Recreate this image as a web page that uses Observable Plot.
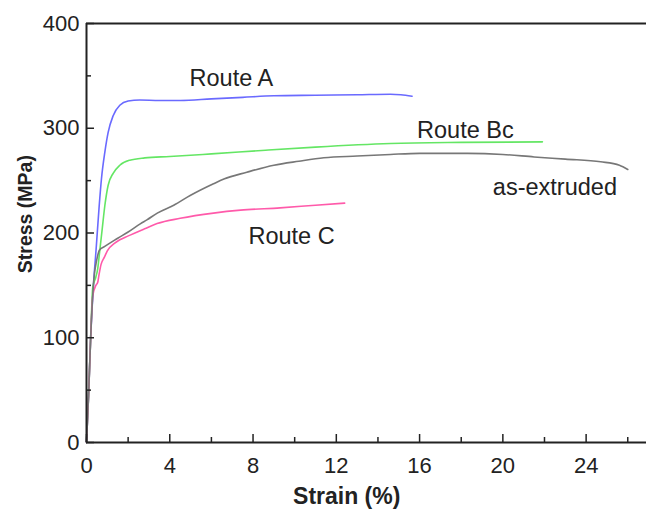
<!DOCTYPE html>
<html>
<head>
<meta charset="utf-8">
<script src="https://cdn.jsdelivr.net/npm/d3@7"></script>
<script src="https://cdn.jsdelivr.net/npm/@observablehq/plot@0.6"></script>
<style>
  body { margin: 0; background: #fff; }
  #chart svg { display: block; }
</style>
</head>
<body>
<div id="chart"></div>
<script>
// Tensile stress–strain curves: [strain %, stress MPa]
const routeA = [
  [0, 0], [0.1, 45], [0.2, 100], [0.35, 155], [0.46, 184], [0.61, 226], [0.72, 252],
  [0.88, 277], [1.04, 296], [1.28, 312], [1.6, 322], [2.0, 326], [2.56, 327], [3.5, 326.5],
  [4.5, 326.5], [6, 328], [7.5, 329.5], [9, 331], [11, 331.5], [13, 332], [14.6, 332.5],
  [15.1, 332], [15.64, 330.6]
];
const routeBc = [
  [0, 0], [0.1, 45], [0.2, 100], [0.3, 148], [0.45, 158], [0.54, 166], [0.62, 180],
  [0.75, 203], [0.88, 226], [1.04, 245.6], [1.28, 257], [1.6, 264.7], [2.08, 269.5],
  [2.8, 271.7], [4, 273], [6, 275.5], [8.6, 279], [11, 282], [14.6, 285.4], [18, 286.5],
  [21.9, 287]
];
const routeC = [
  [0, 0], [0.1, 45], [0.2, 100], [0.3, 140], [0.45, 150], [0.54, 153], [0.6, 160],
  [0.7, 170], [0.86, 177], [1.0, 183], [1.34, 190], [1.6, 193.5], [1.98, 197], [2.79, 204],
  [3.39, 209], [4.5, 214], [6.1, 219], [7.4, 221.8], [9.3, 224], [11, 226.5], [12.4, 228.5]
];
const asExtruded = [
  [0, 0], [0.1, 45], [0.2, 100], [0.35, 155], [0.5, 175], [0.62, 183.6], [0.86, 187],
  [1.5, 195], [2.0, 201], [2.6, 209], [2.9, 212.5], [3.4, 219], [4.19, 226.5], [5, 236],
  [6.1, 247], [6.6, 251.5], [7.7, 258], [9.0, 264.7], [10.2, 268.5], [11.4, 271.8], [13, 273.5],
  [14.6, 275], [16, 276], [18.3, 276], [20, 275], [21.5, 272.6], [23, 270.5], [24.7, 268],
  [25.6, 264.7], [26, 260.6]
];

const seriesNames = ["Route A", "Route Bc", "Route C", "as-extruded"];
const seriesColors = ["#6a6aff", "#64e664", "#ff5aaa", "#777777"];
const seriesData = [routeA, routeBc, routeC, asExtruded];

// Curve labels: [text, strain %, stress MPa]
const curveLabels = [
  ["Route A", 6.96, 348],
  ["Route Bc", 18.2, 298],
  ["as-extruded", 22.5, 243],
  ["Route C", 9.85, 197]
];

const xMajorTicks = [0, 4, 8, 12, 16, 20, 24];
const xMinorTicks = [2, 6, 10, 14, 18, 22, 26];
const yMajorTicks = [0, 100, 200, 300, 400];
const yMinorTicks = [50, 150, 250, 350];

const rows = seriesData.flatMap((pts, i) =>
  pts.map(([strain, stress]) => ({series: seriesNames[i], strain, stress}))
);
const labelRows = curveLabels.map(([text, strain, stress]) => ({text, strain, stress}));

const ink = "#222";
const font = "'Liberation Sans', Arial, Helvetica, sans-serif";

const W = 646, H = 521;
const M = {top: 23, right: 0, bottom: 79, left: 86};
const xDomain = [0, 26.9];
const yDomain = [0, 400];
// data units per pixel, so tick lengths can be given in pixels
const xPerPx = (xDomain[1] - xDomain[0]) / (W - M.left - M.right);
const yPerPx = (yDomain[1] - yDomain[0]) / (H - M.top - M.bottom);

// short ticks pointing into the plot from the bottom and left axes
const inwardX = (ticks, len) => Plot.ruleX(ticks, {x: d => d, y1: () => yDomain[0], y2: () => yDomain[0] + len * yPerPx, stroke: ink, strokeWidth: 1.5});
const inwardY = (ticks, len) => Plot.ruleY(ticks, {y: d => d, x1: () => xDomain[0], x2: () => xDomain[0] + len * xPerPx, stroke: ink, strokeWidth: 1.5});

const chart = Plot.plot({
  width: W,
  height: H,
  marginLeft: M.left,
  marginRight: M.right,
  marginTop: M.top,
  marginBottom: M.bottom,
  style: {fontFamily: font, color: ink, background: "#fff"},
  x: {domain: xDomain},
  y: {domain: yDomain},
  color: {domain: seriesNames, range: seriesColors},
  marks: [
    // curves
    Plot.line(rows, {x: "strain", y: "stress", z: "series", stroke: "series", strokeWidth: 1.6, curve: "monotone-x"}),
    // frame lines
    Plot.ruleY([0], {stroke: ink, strokeWidth: 2}),
    Plot.ruleY([400], {stroke: ink, strokeWidth: 2}),
    Plot.ruleX([0], {stroke: ink, strokeWidth: 2}),
    // inward ticks
    inwardX(xMajorTicks, 8),
    inwardX(xMinorTicks, 5),
    inwardY(yMajorTicks, 8),
    inwardY(yMinorTicks, 5),
    // tick labels
    Plot.axisX({ticks: xMajorTicks, tickSize: 0, tickPadding: 15, label: null, fontSize: 22, fill: ink}),
    Plot.axisY({ticks: yMajorTicks, tickSize: 0, tickPadding: 7, label: null, fontSize: 22, fill: ink}),
    // axis titles
    Plot.text(["Strain (%)"], {x: () => 12.5, frameAnchor: "bottom", dy: 61, fontSize: 23, fontWeight: "bold", fill: ink}),
    Plot.text(["Stress (MPa)"], {y: () => 218, frameAnchor: "left", textAnchor: "middle", dx: -61, rotate: -90, fontSize: 19.5, fontWeight: "bold", fill: ink}),
    // curve labels
    Plot.text(labelRows, {x: "strain", y: "stress", text: "text", fontSize: 23.5, fill: ink})
  ]
});

document.getElementById("chart").append(chart);
</script>
</body>
</html>
